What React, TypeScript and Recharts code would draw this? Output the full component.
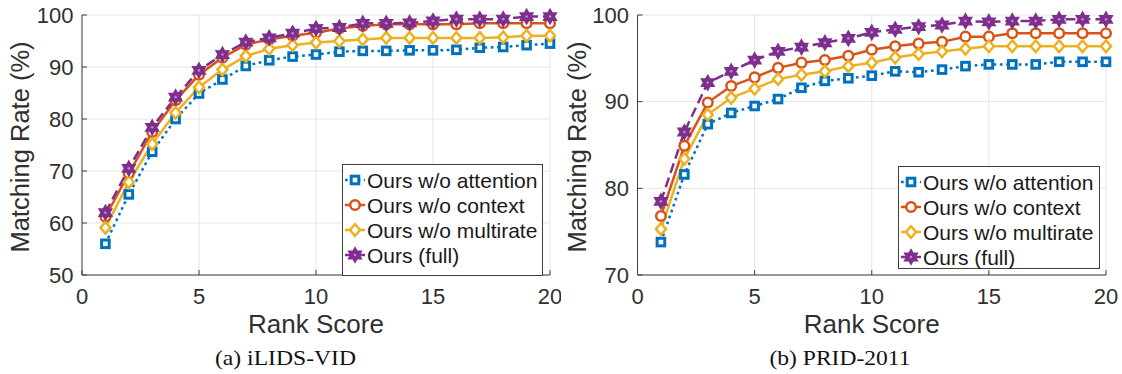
import React from 'react';
import { LineChart, Line, XAxis, YAxis, CartesianGrid, Legend } from 'recharts';

const ranks = [1, 2, 3, 4, 5, 6, 7, 8, 9, 10, 11, 12, 13, 14, 15, 16, 17, 18, 19, 20];
const xTicks = [0, 5, 10, 15, 20];
const ilidsYTicks = [50, 60, 70, 80, 90, 100];
const pridYTicks = [70, 80, 90, 100];

const seriesNames = ['Ours w/o attention', 'Ours w/o context', 'Ours w/o multirate', 'Ours (full)'];

const ilidsAttention = [56.0, 65.5, 73.7, 80.0, 84.9, 87.6, 90.2, 91.3, 92.0, 92.4, 92.95, 93.1, 93.1, 93.2, 93.2, 93.3, 93.7, 93.85, 94.2, 94.5];
const ilidsContext = [61.2, 69.5, 77.5, 83.6, 88.5, 91.8, 94.3, 95.3, 96.0, 96.6, 97.4, 97.9, 98.2, 98.2, 98.2, 98.2, 98.4, 98.4, 98.4, 98.4];
const ilidsMultirate = [59.1, 67.85, 75.2, 81.2, 86.1, 89.5, 92.1, 93.5, 94.2, 94.7, 95.0, 95.3, 95.6, 95.6, 95.6, 95.6, 95.6, 95.7, 96.0, 96.0];
const ilidsFull = [62.0, 70.5, 78.4, 84.2, 89.35, 92.4, 94.8, 95.6, 96.5, 97.4, 97.6, 98.4, 98.4, 98.5, 98.85, 99.2, 99.2, 99.2, 99.7, 99.7];

const pridAttention = [73.8, 81.6, 87.4, 88.7, 89.5, 90.3, 91.6, 92.4, 92.7, 93.0, 93.5, 93.4, 93.7, 94.1, 94.3, 94.3, 94.3, 94.6, 94.6, 94.6];
const pridContext = [76.8, 84.9, 89.9, 91.8, 92.8, 93.9, 94.5, 94.8, 95.3, 96.0, 96.4, 96.7, 96.9, 97.5, 97.5, 97.9, 97.9, 97.9, 97.9, 97.9];
const pridMultirate = [75.3, 83.4, 88.5, 90.45, 91.5, 92.6, 93.1, 93.5, 94.1, 94.5, 95.1, 95.5, 95.8, 96.1, 96.4, 96.4, 96.4, 96.4, 96.4, 96.4];
const pridFull = [78.5, 86.5, 92.2, 93.5, 94.8, 95.8, 96.3, 96.8, 97.3, 98.0, 98.35, 98.65, 98.85, 99.3, 99.2, 99.3, 99.3, 99.5, 99.5, 99.5];

const buildRows = (a: number[], c: number[], m: number[], f: number[]) =>
  ranks.map((r, i) => ({ rank: r, attention: a[i], context: c[i], multirate: m[i], full: f[i] }));

const ilidsData = buildRows(ilidsAttention, ilidsContext, ilidsMultirate, ilidsFull);
const pridData = buildRows(pridAttention, pridContext, pridMultirate, pridFull);

type Kind = 'square' | 'circle' | 'diamond' | 'hexagram';
const series: { key: string; name: string; color: string; dash?: string; kind: Kind }[] = [
  { key: 'attention', name: seriesNames[0], color: '#0072BD', dash: '2.7 3.6', kind: 'square' },
  { key: 'context', name: seriesNames[1], color: '#D95319', kind: 'circle' },
  { key: 'multirate', name: seriesNames[2], color: '#EDB120', kind: 'diamond' },
  { key: 'full', name: seriesNames[3], color: '#7E2F8E', dash: '10 5', kind: 'hexagram' },
];

const FONT = '"Liberation Sans", Arial, Helvetica, sans-serif';
const TEXT = '#303030';
const AXIS = '#404040';

function hexagramPoints(cx: number, cy: number, ro: number, ri: number) {
  const pts: string[] = [];
  for (let k = 0; k < 12; k++) {
    const ang = (-90 + k * 30) * Math.PI / 180;
    const r = k % 2 === 0 ? ro : ri;
    pts.push(`${(cx + r * Math.cos(ang)).toFixed(2)},${(cy + r * Math.sin(ang)).toFixed(2)}`);
  }
  return pts.join(' ');
}

function Marker({ kind, cx, cy, color }: { kind: Kind; cx: number; cy: number; color: string }) {
  if (cx == null || cy == null || isNaN(cx) || isNaN(cy)) return null;
  switch (kind) {
    case 'square':
      return <rect x={cx - 3.8} y={cy - 3.8} width={7.6} height={7.6} fill="#fff" stroke={color} strokeWidth={3} />;
    case 'circle':
      return <circle cx={cx} cy={cy} r={4.8} fill="#fff" stroke={color} strokeWidth={2.5} />;
    case 'diamond':
      return (
        <polygon
          points={`${cx},${cy - 5.8} ${cx + 5},${cy} ${cx},${cy + 5.8} ${cx - 5},${cy}`}
          fill="#fff"
          stroke={color}
          strokeWidth={2.5}
          strokeLinejoin="miter"
        />
      );
    default:
      return (
        <g>
          <polygon points={hexagramPoints(cx, cy, 6.6, 3.8)} fill={color} stroke={color} strokeWidth={2.2} strokeLinejoin="miter" />
          <circle cx={cx} cy={cy} r={1.3} fill="#b58cc0" />
        </g>
      );
  }
}

function LegendBox({ width, height }: { width: number; height: number }) {
  return (
    <svg width={width} height={height} style={{ display: 'block', overflow: 'visible' }}>
      <rect x={0.5} y={0.5} width={width - 1} height={height - 1} fill="#fff" stroke={AXIS} strokeWidth={1} />
      {series.map((s, i) => {
        const cy = 16 + i * 25;
        return (
          <g key={s.key}>
            <line x1={3} x2={23} y1={cy} y2={cy} stroke={s.color} strokeWidth={2.5} strokeDasharray={s.dash} />
            <Marker kind={s.kind} cx={13} cy={cy} color={s.color} />
            <text x={25} y={cy} dominantBaseline="central" fontSize={21} fill="#1a1a1a" fontFamily={FONT}>
              {s.name}
            </text>
          </g>
        );
      })}
    </svg>
  );
}

type PanelProps = {
  data: any[];
  yDomain: [number, number];
  yTicks: number[];
  yAxisWidth: number;
  marginRight: number;
  yLabelX: number;
  legendPos: { left: number; top: number; width: number; height: number };
};

function Panel({ data, yDomain, yTicks, yAxisWidth, marginRight, yLabelX, legendPos }: PanelProps) {
  const tickStyle = { fontSize: 22, fill: TEXT, fontFamily: FONT };
  return (
    <LineChart width={561} height={374} data={data} margin={{ top: 15, right: marginRight, left: 0, bottom: 69 }}>
      <CartesianGrid stroke="#e4e4e4" strokeWidth={1} />
      <XAxis
        dataKey="rank"
        type="number"
        domain={[0, 20]}
        ticks={xTicks}
        height={30}
        tick={tickStyle}
        tickSize={-5}
        tickMargin={18}
        stroke={AXIS}
        axisLine={{ stroke: AXIS }}
        tickLine={{ stroke: AXIS }}
        label={(p: any) => {
          const vb = p.viewBox || {};
          return (
            <text x={vb.x + vb.width / 2} y={333} textAnchor="middle" fontSize={26} fill={TEXT} fontFamily={FONT}>
              Rank Score
            </text>
          );
        }}
      />
      <XAxis
        xAxisId="top"
        orientation="top"
        type="number"
        domain={[0, 20]}
        ticks={xTicks}
        height={0}
        tick={false}
        tickSize={-5}
        axisLine={{ stroke: AXIS }}
        tickLine={{ stroke: AXIS }}
      />
      <YAxis
        type="number"
        domain={yDomain}
        ticks={yTicks}
        width={yAxisWidth}
        tick={tickStyle}
        tickSize={-5}
        tickMargin={13.5}
        axisLine={{ stroke: AXIS }}
        tickLine={{ stroke: AXIS }}
        label={(p: any) => {
          const vb = p.viewBox || {};
          const cy = vb.y + vb.height / 2 + 2;
          return (
            <text
              x={yLabelX}
              y={cy}
              transform={`rotate(-90 ${yLabelX} ${cy})`}
              textAnchor="middle"
              dominantBaseline="central"
              fontSize={25.5}
              fill={TEXT}
              fontFamily={FONT}
            >
              Matching Rate (%)
            </text>
          );
        }}
      />
      <YAxis
        yAxisId="right"
        orientation="right"
        type="number"
        domain={yDomain}
        ticks={yTicks}
        width={0}
        tick={false}
        tickSize={-5}
        axisLine={{ stroke: AXIS }}
        tickLine={{ stroke: AXIS }}
      />
      {series.map((s) => (
        <Line
          key={s.key}
          dataKey={s.key}
          name={s.name}
          type="linear"
          stroke={s.color}
          strokeWidth={2.5}
          strokeDasharray={s.dash}
          isAnimationActive={false}
          activeDot={false}
          dot={(p: any) => (
            <Marker key={`${s.key}-${p.index}`} kind={s.kind} cx={p.cx} cy={p.cy} color={s.color} />
          )}
        />
      ))}
      <Legend
        layout="vertical"
        align="center"
        verticalAlign="middle"
        wrapperStyle={{ position: 'absolute', left: legendPos.left, top: legendPos.top, width: legendPos.width, height: legendPos.height }}
        content={() => <LegendBox width={legendPos.width} height={legendPos.height} />}
      />
    </LineChart>
  );
}

export default function App() {
  return (
    <div style={{ position: 'absolute', left: 0, top: 0, width: 1122, height: 374, background: '#fff' }}>
      <div style={{ position: 'absolute', left: 0, top: 0 }}>
        <Panel
          data={ilidsData}
          yDomain={[50, 100]}
          yTicks={ilidsYTicks}
          yAxisWidth={82}
          marginRight={11}
          yLabelX={20}
          legendPos={{ left: 342, top: 164, width: 201, height: 112 }}
        />
      </div>
      <div style={{ position: 'absolute', left: 561, top: 0 }}>
        <Panel
          data={pridData}
          yDomain={[70, 100]}
          yTicks={pridYTicks}
          yAxisWidth={76.5}
          marginRight={16}
          yLabelX={16}
          legendPos={{ left: 337, top: 166, width: 202, height: 103 }}
        />
      </div>
      <svg width={1122} height={374} style={{ position: 'absolute', left: 0, top: 0, pointerEvents: 'none' }}>
        <text x={285.5} y={365} textAnchor="middle" fontSize={21} fill="#111" fontFamily='"Liberation Serif", "Times New Roman", serif' textLength={141} lengthAdjust="spacingAndGlyphs">
          (a) iLIDS-VID
        </text>
        <text x={840} y={365} textAnchor="middle" fontSize={21} fill="#111" fontFamily='"Liberation Serif", "Times New Roman", serif' textLength={141} lengthAdjust="spacingAndGlyphs">
          (b) PRID-2011
        </text>
      </svg>
    </div>
  );
}
